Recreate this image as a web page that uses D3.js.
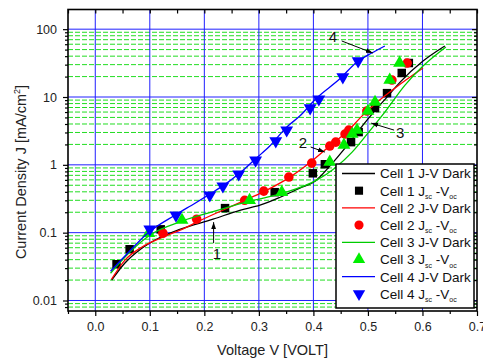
<!DOCTYPE html>
<html>
<head>
<meta charset="utf-8">
<script src="https://cdn.jsdelivr.net/npm/d3@7"></script>
<style>
  html, body { margin: 0; padding: 0; background: #fff; }
  text { font-family: "Liberation Sans", Arial, sans-serif; }
</style>
</head>
<body>
<script>
// ticks
const voltageMajor = [0.0, 0.1, 0.2, 0.3, 0.4, 0.5, 0.6, 0.7];
const voltageMinor = [-0.05, 0.05, 0.15, 0.25, 0.35, 0.45, 0.55, 0.65];
const densityMajor = [0.01, 0.1, 1, 10, 100];
const densityLabels = ["0.01", "0.1", "1", "10", "100"];

// dark J-V curves [V, J]
const cell1Dark = [[0.030, 0.0199], [0.054, 0.0354], [0.083, 0.057], [0.109, 0.0774], [0.155, 0.112],
  [0.216, 0.158], [0.265, 0.214], [0.302, 0.254], [0.339, 0.333], [0.375, 0.453], [0.403, 0.574],
  [0.430, 0.957], [0.458, 1.76], [0.485, 3.37], [0.509, 5.79], [0.535, 9.98], [0.559, 16.6],
  [0.601, 33.9], [0.641, 56.5]];
const cell2Dark = [[0.030, 0.0206], [0.054, 0.039], [0.085, 0.061], [0.128, 0.0887], [0.164, 0.117],
  [0.186, 0.143], [0.271, 0.291], [0.307, 0.395], [0.357, 0.659], [0.395, 1.10], [0.434, 2.02],
  [0.461, 3.04], [0.489, 5.23], [0.513, 7.87], [0.550, 13.6], [0.601, 26.7]];
const cell3Dark = [[0.028, 0.0252], [0.063, 0.0515], [0.100, 0.0918], [0.159, 0.148], [0.219, 0.207],
  [0.283, 0.291], [0.344, 0.382], [0.406, 0.594], [0.439, 0.894], [0.471, 1.54], [0.500, 2.94],
  [0.531, 6.0], [0.568, 15.0], [0.601, 28.6], [0.643, 54.6]];
const cell4Dark = [[0.028, 0.027], [0.054, 0.0449], [0.096, 0.0984], [0.146, 0.181], [0.183, 0.272],
  [0.210, 0.37], [0.236, 0.502], [0.265, 0.755], [0.293, 1.21], [0.320, 1.89], [0.351, 3.6],
  [0.375, 5.23], [0.406, 9.66], [0.448, 18.4], [0.480, 32.8], [0.507, 44.5], [0.531, 56.5]];

// Jsc-Voc points [Voc, Jsc]
const cell1Jsc = [[0.039, 0.0342], [0.063, 0.057], [0.120, 0.112], [0.238, 0.23], [0.329, 0.395],
  [0.399, 0.75], [0.421, 1.02], [0.469, 2.16], [0.483, 3.04], [0.513, 6.87], [0.535, 11.4],
  [0.562, 22.6], [0.575, 31.7]];
const cell2Jsc = [[0.124, 0.098], [0.186, 0.158], [0.274, 0.30], [0.309, 0.41], [0.355, 0.66],
  [0.397, 1.06], [0.430, 1.89], [0.441, 2.16], [0.458, 2.84], [0.465, 3.25], [0.498, 6.2],
  [0.544, 17.8], [0.572, 31.7]];
const cell3Jsc = [[0.098, 0.098], [0.159, 0.153], [0.283, 0.30], [0.342, 0.395], [0.430, 1.10],
  [0.456, 1.96], [0.471, 2.84], [0.480, 3.25], [0.500, 6.2], [0.513, 8.4], [0.540, 17.8],
  [0.558, 31.7]];
const cell4Jsc = [[0.100, 0.112], [0.148, 0.181], [0.210, 0.357], [0.234, 0.485], [0.263, 0.73],
  [0.294, 1.17], [0.331, 2.24], [0.351, 3.25], [0.394, 6.87], [0.410, 9.3], [0.454, 19.7],
  [0.482, 34]];

// curve labels: text position, arrow start, arrow end
const callouts = [
  { label: "1", at: [0.223, 0.0498], from: [0.217, 0.07], to: [0.217, 0.143] },
  { label: "2", at: [0.381, 2.16], from: [0.395, 1.83], to: [0.421, 1.54] },
  { label: "3", at: [0.559, 2.94], from: [0.548, 3.25], to: [0.506, 4.12] },
  { label: "4", at: [0.436, 76.7], from: [0.452, 67], to: [0.509, 44.5] },
];

const W = 483, H = 360;
const svg = d3.select("body").append("svg").attr("width", W).attr("height", H);

const x = d3.scaleLinear().domain([-0.05, 0.7]).range([68, 477]);
const y = d3.scaleLog().domain([0.007, 195]).range([311, 9.5]);

// grid
const minorY = [];
for (let e = -3; e <= 2; e++) {
  for (let m = 2; m <= 9; m++) {
    const v = m * Math.pow(10, e);
    if (v > 0.007 && v < 195) minorY.push(v);
  }
}
const grid = svg.append("g");
grid.selectAll(".gmin").data(minorY).enter().append("line")
  .attr("x1", x.range()[0]).attr("x2", x.range()[1])
  .attr("y1", (d) => y(d)).attr("y2", (d) => y(d))
  .attr("stroke", "#22dd22").attr("stroke-width", 1).attr("stroke-dasharray", "5,2");
grid.selectAll(".gmaj").data(densityMajor).enter().append("line")
  .attr("x1", x.range()[0]).attr("x2", x.range()[1])
  .attr("y1", (d) => y(d)).attr("y2", (d) => y(d))
  .attr("stroke", "#2020ff").attr("stroke-width", 1);
grid.selectAll(".gv").data(voltageMajor.slice(0, -1)).enter().append("line")
  .attr("y1", y.range()[0]).attr("y2", y.range()[1])
  .attr("x1", (d) => x(d)).attr("x2", (d) => x(d))
  .attr("stroke", "#2020ff").attr("stroke-width", 1);

// series
const series = [
  { name: "Cell 1", color: "#000000", dark: cell1Dark, pts: cell1Jsc, sym: d3.symbolSquare, size: 72, rot: 0 },
  { name: "Cell 2", color: "#ff0000", dark: cell2Dark, pts: cell2Jsc, sym: d3.symbolCircle, size: 72, rot: 0 },
  { name: "Cell 3", color: "#00ee00", dark: cell3Dark, pts: cell3Jsc, sym: d3.symbolTriangle, size: 72, rot: 0 },
  { name: "Cell 4", color: "#0000ff", dark: cell4Dark, pts: cell4Jsc, sym: d3.symbolTriangle, size: 72, rot: 180 },
];

const line = d3.line().x((d) => x(d[0])).y((d) => y(d[1])).curve(d3.curveMonotoneX);

series.forEach((s) => {
  svg.append("path").datum(s.dark)
    .attr("fill", "none").attr("stroke", s.color === "#00ee00" ? "#00cc00" : s.color)
    .attr("stroke-width", 1.3).attr("d", line);
  svg.append("g").selectAll("path").data(s.pts).enter().append("path")
    .attr("d", d3.symbol().type(s.sym).size(s.size))
    .attr("transform", (d) => `translate(${x(d[0])},${y(d[1])}) rotate(${s.rot})`)
    .attr("fill", s.color);
});

// callouts
svg.append("defs").append("marker")
  .attr("id", "arrow").attr("viewBox", "0 0 10 10").attr("refX", 10).attr("refY", 5)
  .attr("markerWidth", 7).attr("markerHeight", 7).attr("orient", "auto")
  .append("path").attr("d", "M0,1.5 L10,5 L0,8.5 Z").attr("fill", "#000");

callouts.forEach((c) => {
  svg.append("line")
    .attr("x1", x(c.from[0])).attr("y1", y(c.from[1]))
    .attr("x2", x(c.to[0])).attr("y2", y(c.to[1]))
    .attr("stroke", "#000").attr("stroke-width", 1).attr("marker-end", "url(#arrow)");
  svg.append("text").attr("x", x(c.at[0])).attr("y", y(c.at[1]))
    .attr("text-anchor", "middle").attr("dy", "0.36em")
    .attr("font-size", 15).attr("fill", "#111").text(c.label);
});

// axes
const styleAxis = (g) => {
  g.select(".domain").remove();
  g.selectAll(".tick line").attr("stroke", "#000").attr("stroke-width", 1.2);
  g.selectAll(".tick text").attr("font-size", 12.5).attr("fill", "#222")
    .style("font-family", "'Liberation Sans', Arial, sans-serif");
};

svg.append("g").attr("transform", "translate(0,311)")
  .call(d3.axisBottom(x).tickValues(voltageMajor).tickSize(5).tickPadding(6).tickFormat(d3.format(".1f")))
  .call(styleAxis);
svg.append("g").attr("transform", "translate(0,311)")
  .call(d3.axisBottom(x).tickValues(voltageMinor).tickSize(3).tickFormat(""))
  .call(styleAxis);
svg.append("g").attr("transform", "translate(0,9.5)")
  .call(d3.axisTop(x).tickValues(voltageMajor.concat(voltageMinor)).tickSize(-4).tickFormat(""))
  .call(styleAxis);

svg.append("g").attr("transform", "translate(68,0)")
  .call(d3.axisLeft(y).tickValues(densityMajor).tickSize(5).tickPadding(6)
    .tickFormat((d, i) => densityLabels[i]))
  .call(styleAxis);
svg.append("g").attr("transform", "translate(68,0)")
  .call(d3.axisLeft(y).tickValues(minorY).tickSize(3).tickFormat(""))
  .call(styleAxis);
svg.append("g").attr("transform", "translate(477,0)")
  .call(d3.axisRight(y).tickValues(densityMajor).tickSize(-5).tickFormat(""))
  .call(styleAxis);
svg.append("g").attr("transform", "translate(477,0)")
  .call(d3.axisRight(y).tickValues(minorY).tickSize(-3).tickFormat(""))
  .call(styleAxis);

// legend
const lg = svg.append("g");
lg.append("rect").attr("x", 336).attr("y", 164).attr("width", 138).attr("height", 144)
  .attr("fill", "#fff").attr("stroke", "#000").attr("stroke-width", 1.5);
const rows = [];
series.forEach((s) => {
  rows.push({ s, kind: "line" });
  rows.push({ s, kind: "pts" });
});
rows.forEach((r, i) => {
  const cy = 173.5 + i * 17.2;
  if (r.kind === "line") {
    lg.append("line").attr("x1", 342).attr("x2", 375).attr("y1", cy).attr("y2", cy)
      .attr("stroke", r.s.color === "#00ee00" ? "#00cc00" : r.s.color).attr("stroke-width", 1.3);
    lg.append("text").attr("x", 380).attr("y", cy).attr("dy", "0.36em")
      .attr("font-size", 13.5).attr("fill", "#111").text(r.s.name + " J-V Dark");
  } else {
    lg.append("path").attr("d", d3.symbol().type(r.s.sym).size(66))
      .attr("transform", `translate(359,${cy}) rotate(${r.s.rot})`).attr("fill", r.s.color);
    const t = lg.append("text").attr("x", 380).attr("y", cy).attr("dy", "0.36em")
      .attr("font-size", 13.5).attr("fill", "#111");
    t.append("tspan").text(r.s.name + " J");
    t.append("tspan").attr("font-size", 7).attr("dy", 3.5).text("sc");
    t.append("tspan").attr("dy", -3.5).text(" -V");
    t.append("tspan").attr("font-size", 7).attr("dy", 3.5).text("oc");
  }
});

// frame
svg.append("rect").attr("x", 68).attr("y", 9.5).attr("width", 409).attr("height", 301.5)
  .attr("fill", "none").attr("stroke", "#000").attr("stroke-width", 1.6);

// titles
svg.append("text").attr("x", 272.5).attr("y", 355).attr("text-anchor", "middle")
  .attr("font-size", 14.5).attr("fill", "#222").text("Voltage V [VOLT]");
const yt = svg.append("text").attr("transform", "translate(26,172) rotate(-90)")
  .attr("text-anchor", "middle").attr("font-size", 14.5).attr("fill", "#222");
yt.append("tspan").text("Current Density J [mA/cm");
yt.append("tspan").attr("font-size", 9).attr("dy", -6).text("2");
yt.append("tspan").attr("dy", 6).text("]");
</script>
</body>
</html>
